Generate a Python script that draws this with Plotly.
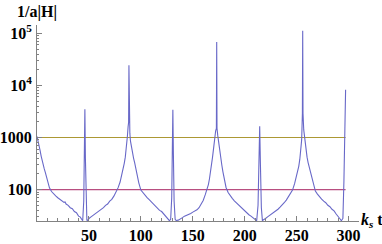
import math
import plotly.graph_objects as go

# ---- data ----
kst = [0, 1, 2, 3, 4, 5, 6, 7, 8, 10, 12, 14, 16, 18, 20, 22, 24, 26, 27, 28, 30, 32, 34, 36, 38, 40, 41.5, 43, 44, 45, 45.6, 46.1, 46.6, 47.2, 48, 49,
       50, 52, 54, 56, 58, 60, 62, 64, 66, 68, 70, 72, 74, 76, 78, 80, 82, 84, 85, 86, 87, 87.7, 88.2, 88.5, 88.8, 89.4,
       90, 91, 92, 93, 94, 95, 96, 98, 100, 102, 104, 106, 108, 110, 112, 114, 116, 118, 120, 122, 124, 126, 127.5, 128.7, 129.7, 130.3, 130.8, 131.3, 132, 133, 134,
       136, 138, 140, 142, 144, 146, 148, 150, 152, 154, 156, 158, 160, 162, 164, 165, 166, 167, 168, 169, 170, 171, 172, 172.7, 173.0, 173.3, 174,
       175, 176, 177, 178, 179, 180, 182, 184, 186, 188, 190, 192, 194, 196, 198, 200, 202, 204, 206, 208, 210, 211.5, 212.8, 213.7, 214.4, 215.1, 216, 217,
       218, 220, 222, 224, 226, 228, 230, 232, 234, 236, 238, 240, 242, 244, 246, 248, 250, 251, 252, 253, 254, 254.8, 255.5, 255.8, 256.1, 256.8,
       257.5, 258, 259, 260, 261, 262, 263, 264, 266, 268, 270, 272, 274, 276, 278, 280, 282, 284, 286, 288, 290, 292, 293, 294.5, 295.5, 296.3, 297.1]
inv_aH = [1050, 800, 640, 560, 440, 350, 290, 250, 215, 150, 108, 92, 82, 76, 70, 65, 61, 57, 58, 53, 50, 45, 43, 38, 36, 31, 30, 27, 25.3, 60, 400, 3500, 400, 60, 26, 25.5,
          28, 30, 32, 35, 37, 40, 43, 45, 50, 53, 60, 65, 75, 88, 108, 140, 200, 320, 420, 620, 1050, 1600, 1950, 24500, 1950, 1200,
          850, 620, 500, 400, 330, 260, 200, 135, 98, 86, 76, 70, 64, 58, 54, 48, 45, 40, 38, 34, 32, 28, 25.3, 27, 70, 600, 3400, 500, 60, 27, 25.5,
          26, 28, 29, 31, 32, 34, 35, 37, 39, 41, 45, 52, 62, 80, 102, 125, 160, 210, 300, 420, 620, 1000, 1350, 1500, 68000, 1500, 1100,
          750, 520, 380, 290, 220, 170, 110, 88, 76, 68, 61, 56, 50, 47, 42, 39, 35, 33, 31, 29, 27, 25.3, 50, 300, 1650, 300, 45, 25.5,
          26, 28, 30, 32, 34, 36, 39, 42, 46, 50, 56, 63, 72, 84, 98, 130, 180, 220, 280, 380, 560, 900, 2900, 112000, 2900, 1400,
          1000, 800, 560, 420, 330, 270, 225, 190, 130, 94, 82, 72, 66, 60, 56, 50, 47, 42, 39, 34, 31, 27, 25.3, 28, 150, 1500, 8300]
hline_levels = [100, 1000]
hline_span = [0, 297.1]
x_tick_values = [50, 100, 150, 200, 250, 300]
x_tick_labels = ["50", "100", "150", "200", "250", "300"]
y_tick_values = [100, 1000, 10000, 100000]
y_tick_labels = ["100", "1000", "10<sup>4</sup>", "10<sup>5</sup>"]
y_minor_values = [m * 10 ** e for e in (1, 2, 3, 4) for m in range(2, 10)]

# ---- styles ----
curve_color = "rgb(104,104,200)"
hline_colors = ["rgb(184,78,128)", "rgb(172,152,52)"]
axis_color = "rgb(130,130,130)"
font_family = "Liberation Serif"

fig = go.Figure()
for level, col in zip(hline_levels, hline_colors):
    fig.add_trace(go.Scatter(x=hline_span, y=[level, level], mode="lines",
                             line=dict(color=col, width=1.1), hoverinfo="skip"))
fig.add_trace(go.Scatter(x=kst, y=inv_aH, mode="lines",
                         line=dict(color=curve_color, width=1.1)))

tickfont = dict(family=font_family, size=16, color="black")
fig.update_layout(
    width=382, height=244,
    margin=dict(l=37, r=23, t=25, b=23, autoexpand=False),
    paper_bgcolor="white", plot_bgcolor="white",
    showlegend=False,
    xaxis=dict(range=[0, 310], automargin=False, showline=True, linecolor=axis_color, linewidth=1,
               showgrid=False, zeroline=False,
               ticks="inside", ticklen=5, tickcolor=axis_color,
               tickmode="array", tickvals=x_tick_values,
               ticktext=["<b>%s</b>" % t for t in x_tick_labels],
               tickfont=tickfont,
               minor=dict(ticks="inside", ticklen=3, tickcolor=axis_color, dtick=10, tick0=0, showgrid=False)),
    yaxis=dict(type="log", range=[math.log10(25), 5.16], automargin=False, showline=True, linecolor=axis_color, linewidth=1,
               showgrid=False, zeroline=False,
               ticks="inside", ticklen=5, tickcolor=axis_color,
               tickmode="array", tickvals=y_tick_values,
               ticktext=["<b>%s</b>" % t for t in y_tick_labels],
               tickfont=tickfont, ticklabelstandoff=1,
               minor=dict(ticks="inside", ticklen=2, tickcolor=axis_color, tickmode="array",
                          tickvals=y_minor_values, showgrid=False)),
    annotations=[
        dict(text="<b>1/a|H|</b>", xref="paper", yref="paper", x=0, y=1.066,
             xanchor="center", yanchor="middle", showarrow=False,
             font=dict(family=font_family, size=16, color="black")),
        dict(text="<b><i>k</i><sub><i>s</i></sub> t</b>", xref="paper", yref="paper", x=1.04, y=0.005,
             xanchor="center", yanchor="middle", showarrow=False,
             font=dict(family=font_family, size=16, color="black")),
    ],
)

fig.write_html("out.html", config={"displayModeBar": False},
               post_script="document.body.style.margin='0';document.body.style.overflow='hidden';")
